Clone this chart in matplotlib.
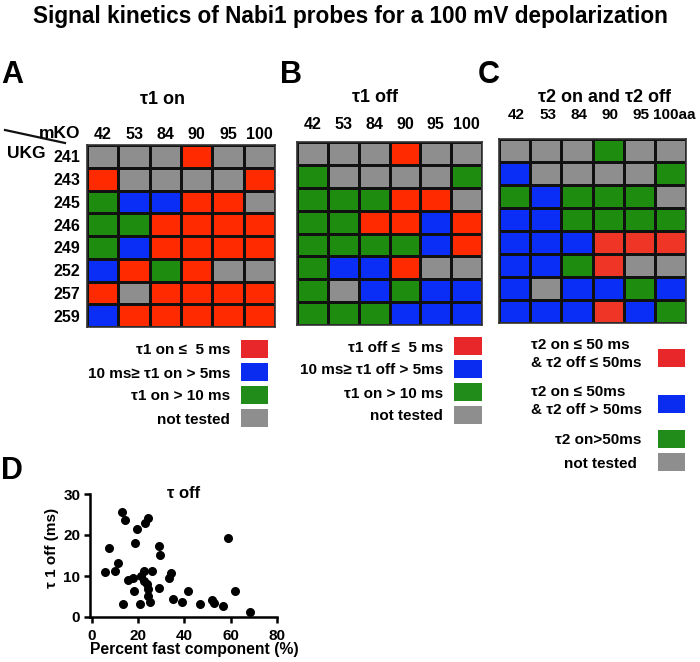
import matplotlib
matplotlib.use("Agg")
import matplotlib.pyplot as plt
import numpy as np
from matplotlib.colors import ListedColormap
from matplotlib.lines import Line2D
from matplotlib.transforms import ScaledTranslation

# ---------------- data ----------------
title_text = "Signal kinetics of Nabi1 probes for a 100 mV depolarization"
mko_cols = ["42", "53", "84", "90", "95", "100"]
mko_cols_c = ["42", "53", "84", "90", "95", "100aa"]
ukg_rows = ["241", "243", "245", "246", "249", "252", "257", "259"]
category_codes = ["R", "B", "G", "X"]  # fast / medium / slow / not tested

tau1_on = ["XXXRXX", "RXXXXR", "GBBRRX", "GGRRRR", "GBRRRR", "BRGRXX", "RXRRRR", "BRRRRR"]
tau1_off = ["XXXRXX", "GXXXXG", "GGGRRX", "GGRRBR", "GGGGBR", "GBBRXX", "GXBGBB", "GGGBBB"]
tau2 = ["XXXGXX", "BXXXXG", "GBGGGX", "BBGGGG", "BBBRRR", "BBGRXX", "BXBBGB", "BBBRBG"]

legend_a = ["\u03c41 on \u2264  5 ms", "10 ms\u2265 \u03c41 on > 5ms", "\u03c41 on > 10 ms", "not tested"]
legend_b = ["\u03c41 off \u2264  5 ms", "10 ms\u2265 \u03c41 off > 5ms", "\u03c41 on > 10 ms", "not tested"]
legend_c = ["\u03c42 on \u2264 50 ms\n& \u03c42 off \u2264 50ms", "\u03c42 on \u2264 50ms\n& \u03c42 off > 50ms",
            "\u03c42 on>50ms", "not tested"]

fast_pct = [13.2, 14.3, 19.6, 22.9, 24.3, 18.6, 7.2, 29.2, 29.5, 11.5, 5.6, 10.2, 15.8, 17.6,
            21.1, 22.7, 26.0, 22.5, 23.9, 24.1, 18.3, 29.2, 24.3, 25.0, 13.3, 20.6, 33.2, 34.4,
            35.1, 38.9, 41.4, 46.8, 52.0, 52.9, 56.8, 58.9, 61.9, 68.2]
tau1_off_ms = [25.7, 23.7, 21.5, 22.9, 24.1, 18.0, 16.9, 17.3, 15.1, 13.1, 10.9, 11.2, 9.0, 9.4,
               10.1, 11.3, 11.2, 8.7, 8.1, 6.8, 6.3, 7.0, 5.2, 3.7, 3.2, 3.2, 9.5, 10.7,
               4.3, 3.7, 6.3, 3.1, 4.2, 3.4, 2.8, 19.3, 6.3, 1.2]

# ---------------- style ----------------
W, H = 700, 662
plt.rcParams["font.family"] = ["Liberation Sans", "DejaVu Sans"]
plt.rcParams["font.weight"] = "bold"

grid_colors_ab = ["#FF2A00", "#0A2EF5", "#1E8C0F", "#8E8E8E"]
grid_colors_c = ["#EE3526", "#0A2EF5", "#1E8C0F", "#8E8E8E"]
legend_colors = ["#E8272A", "#0A2BF0", "#218C1A", "#8E8E8E"]

fig = plt.figure(figsize=(W / 100, H / 100), dpi=100)


def px_axes(x0, y0, x1, y1):
    return fig.add_axes([x0 / W, 1 - y1 / H, (x1 - x0) / W, (y1 - y0) / H])


def fx(x):
    return x / W


def fy(y):
    return 1 - y / H


def draw_grid(box, rows, cols, row_labels, col_pad, colors, col_size=11.5):
    ax = px_axes(*box)
    mat = np.array([[category_codes.index(c) for c in r] for r in rows])
    nr, nc = mat.shape
    ax.pcolormesh(np.arange(nc + 1), np.arange(nr + 1), mat, cmap=ListedColormap(colors),
                  vmin=-0.5, vmax=3.5, edgecolors="#111111", linewidth=1.0)
    ax.set_xlim(0, nc)
    ax.set_ylim(nr, 0)
    ax.xaxis.tick_top()
    ax.set_xticks(np.arange(nc) + 0.5, cols)
    ax.tick_params(axis="x", length=0, pad=col_pad, labelsize=col_size)
    if row_labels:
        ax.set_yticks(np.arange(nr) + 0.5, row_labels)
        ax.tick_params(axis="y", length=0, pad=5, labelsize=11.5)
    else:
        ax.set_yticks([])
    for s in ax.spines.values():
        s.set_color("#333333")
        s.set_linewidth(1.2)
    return ax


draw_grid((87, 145, 275, 327), tau1_on, mko_cols, ukg_rows, 2.5, grid_colors_ab)
draw_grid((297, 142, 482, 325), tau1_off, mko_cols, None, 7.5, grid_colors_ab)
axc = draw_grid((499, 139, 686, 323), tau2, mko_cols_c, None, 12.5, grid_colors_c, col_size=11)
# column labels of panel C sit a little to the right; the last one further
for i, lab in enumerate(axc.get_xticklabels()):
    shift = 4 if i == len(mko_cols_c) - 1 else 2
    lab.set_transform(lab.get_transform() + ScaledTranslation(shift / 100, 0, fig.dpi_scale_trans))


def draw_legend(sq_x0, sq_x1, y_first, unit, labels, line_counts, text_specs, sq_h=18):
    centers = []
    acc = 0.0
    for i, n in enumerate(line_counts):
        if i == 0:
            acc = n / 2.0
        else:
            acc += line_counts[i - 1] / 2.0 + n / 2.0
        centers.append(acc)
    centers = np.array(centers) - centers[0]
    ymax = centers[-1]
    top = y_first - unit / 2
    bottom = y_first + (ymax + 0.5) * unit
    ax = px_axes(sq_x0, top, sq_x1, bottom)
    ax.set_xlim(0, 1)
    ax.set_ylim(ymax + 0.5, -0.5)
    ax.barh(centers, 1, left=0, height=sq_h / unit, color=legend_colors[:len(labels)], linewidth=0)
    ax.axis("off")
    wpx = sq_x1 - sq_x0
    for c, lab, (xpx, ha, dy) in zip(centers, labels, text_specs):
        ax.text((xpx - sq_x0) / wpx, c + dy / unit, lab, ha=ha, va="center", fontsize=11,
                fontweight="bold", linespacing=1.3, clip_on=False)
    return ax


draw_legend(241, 268, 348.5, 23, legend_a, [1, 1, 1, 1], [(230, "right", 2)] * 4)
draw_legend(454, 482, 345.5, 23, legend_b, [1, 1, 1, 1], [(443, "right", 2)] * 4)
draw_legend(658, 685, 358, 23, legend_c, [2, 2, 1, 1],
            [(531, "left", -4), (531, "left", -3), (641, "right", 1), (637, "right", 3)])

# ---------------- texts ----------------
t = fig.text(0.5, fy(16), title_text, ha="center", va="center", fontsize=14, fontweight="bold")
fig.canvas.draw()
wt = t.get_window_extent().width
t.set_fontsize(14 * 636 / wt)

for letter, x, y in [("A", 1, 83), ("B", 280, 83), ("C", 478, 83), ("D", 1, 479)]:
    fig.text(fx(x), fy(y), letter, ha="left", va="baseline", fontsize=22, fontweight="bold")

fig.text(fx(163), fy(99), "\u03c41 on", ha="center", va="center", fontsize=13, fontweight="bold")
fig.text(fx(375), fy(97), "\u03c41 off", ha="center", va="center", fontsize=13, fontweight="bold")
fig.text(fx(605), fy(98), "\u03c42 on and \u03c42 off", ha="center", va="center", fontsize=13, fontweight="bold")

fig.text(fx(80), fy(133), "mKO", ha="right", va="center", fontsize=12.5, fontweight="bold")
fig.text(fx(7), fy(153), "UKG", ha="left", va="center", fontsize=12.5, fontweight="bold")
fig.add_artist(Line2D([fx(5), fx(65)], [fy(130), fy(143)], color="#111111", lw=1.6))

# ---------------- scatter D ----------------
ax = px_axes(90, 494, 277, 617)
ax.scatter(fast_pct, tau1_off_ms, s=30, color="black", clip_on=False, zorder=3)
ax.set_xlim(-0.8, 80)
ax.set_ylim(0, 30)
ax.set_xticks([0, 20, 40, 60, 80])
ax.set_yticks([0, 10, 20, 30])
for s in ["top", "right"]:
    ax.spines[s].set_visible(False)
for s in ["left", "bottom"]:
    ax.spines[s].set_linewidth(1.8)
ax.tick_params(width=1.8, length=4, labelsize=11, pad=3)
ax.tick_params(axis="x", pad=5)
ax.text(0.5, 1.0, "\u03c4 off", transform=ax.transAxes, ha="center", va="center",
        fontsize=12, fontweight="bold")
ax.set_xlabel("Percent fast component (%)", fontsize=11.3, fontweight="bold")
ax.xaxis.set_label_coords((194 - 90) / 187, -(642 - 617) / 123)
ax.set_ylabel("\u03c4 1 off (ms)", fontsize=11, fontweight="bold")
ax.yaxis.set_label_coords((59 - 90) / 187, (617 - 548) / 123)

fig.savefig("out.png", dpi=100)
